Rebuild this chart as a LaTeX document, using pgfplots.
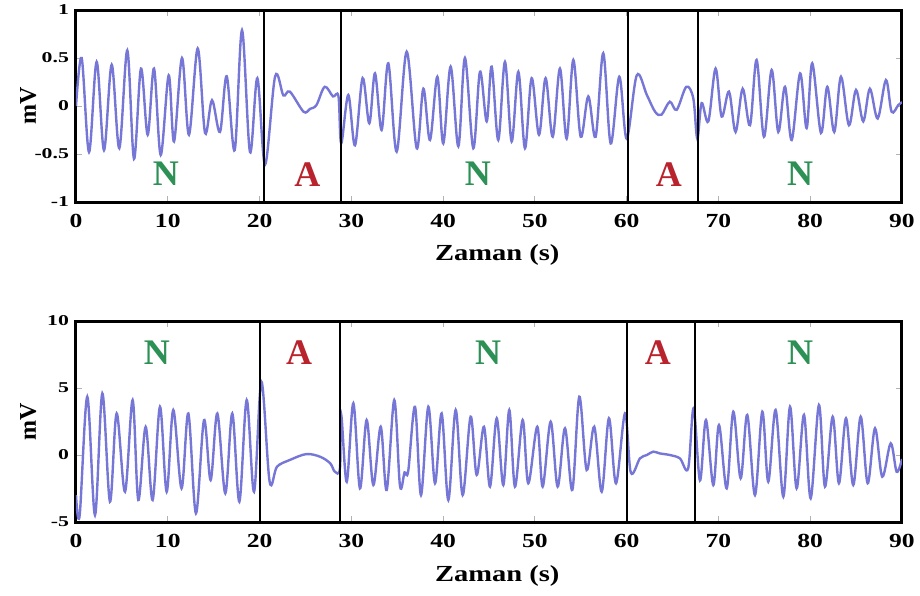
\documentclass[border=0pt]{standalone}
\usepackage{fontspec}
\setmainfont{Liberation Serif}
\newfontfamily\xtickfont[FakeStretch=1.28]{Liberation Serif}
\newfontfamily\ytickfont[FakeStretch=1.45]{Liberation Serif}
\newfontfamily\xlabfont[FakeStretch=1.24]{Liberation Serif}
\usepackage{pgfplots}
\pgfplotsset{compat=1.18}
\definecolor{sig}{RGB}{118,118,215}
\definecolor{ngreen}{RGB}{45,145,85}
\definecolor{ared}{RGB}{185,35,45}
\pgfplotsset{ecg/.style={
  scale only axis, width=413pt, xmin=0, xmax=90, xtick={0,10,...,90},
  tick align=inside, tick pos=both, major tick length=3pt,
  tick style={gray!60, line width=0.5pt},
  axis line style={line width=1.5pt},
  xticklabel style={font=\xtickfont\bfseries\fontsize{10}{11}\selectfont, anchor=center, yshift=-9.5pt},
  yticklabel style={font=\ytickfont\bfseries\fontsize{7.5}{8}\selectfont},
  /pgf/number format/assume math mode=true,
  xlabel={Zaman (s)}, ylabel={mV},
  xlabel style={font=\xlabfont\bfseries\fontsize{11.5}{13}\selectfont, at={(axis description cs:0.51,0)}, anchor=center, yshift=-26.5pt},
  ylabel style={font=\bfseries\fontsize{12}{13}\selectfont, at={(axis description cs:-0.058,0.5)}, anchor=center},
  clip=true,
}}
\newcommand{\lab}{\bfseries\fontsize{18}{20}\selectfont}
\begin{document}
\begin{tikzpicture}
\begin{axis}[ecg, name=top, height=96pt, ymin=-1, ymax=1, ytick={-1,-0.5,0,0.5,1}]
\addplot[sig, line width=1.2pt, smooth, tension=0.55] coordinates {
(0,0.0) (0.62,0.50) (1.42,-0.48) (2.25,0.46) (3.05,-0.46) (3.89,0.43) (4.72,-0.44)
(5.59,0.58) (6.32,-0.55) (7.08,0.39) (7.81,-0.30) (8.50,0.39) (9.23,-0.51) (10.1,0.32)
(10.68,-0.37) (11.55,0.50) (12.31,-0.30) (13.26,0.60) (14.06,-0.28) (14.82,0.06)
(15.69,-0.27) (16.42,0.31) (17.29,-0.46) (18.09,0.79) (18.96,-0.48) (19.76,0.29)
(20.6,-0.61) (21.7,0.31) (22.6,0.11) (23.3,0.15) (24.8,-0.06) (25.5,-0.03) (26.2,0.01)
(27.1,0.20) (28.0,0.10) (28.6,0.10) (28.9,-0.39) (29.67,0.115) (30.4,-0.41) (31.23,0.29)
(31.96,-0.18) (32.58,0.34) (33.3,-0.25) (34.03,0.445) (34.94,-0.476) (36.03,0.566)
(37.12,-0.44) (37.85,0.18) (38.57,-0.354) (39.37,0.305) (40.02,-0.39) (40.82,0.41)
(41.66,-0.42) (42.38,0.50) (43.29,-0.44) (44.02,0.357) (44.75,-0.16) (45.29,0.41)
(46.01,-0.354) (46.74,0.46) (47.47,-0.37) (48.2,0.357) (48.92,-0.44) (49.65,0.29)
(50.45,-0.30) (51.17,0.29) (51.94,-0.32) (52.73,0.39) (53.46,-0.34) (54.19,0.48)
(54.99,-0.32) (55.82,0.10) (56.62,-0.32) (57.45,0.55) (58.26,-0.39) (59.2,0.305)
(60.0,-0.34) (61.1,0.32) (62.2,0.115) (63.1,-0.06) (63.8,-0.09) (64.7,0.045)
(65.45,-0.04) (66.5,0.20) (67.26,0.08) (67.7,-0.34) (68.17,0.03) (68.9,-0.16)
(69.69,0.39) (70.35,-0.11) (71.15,0.15) (71.87,-0.27) (72.64,0.18) (73.44,-0.20)
(74.16,0.48) (74.96,-0.32) (75.8,0.375) (76.52,-0.27) (77.25,0.20) (77.98,-0.354)
(78.9,0.34) (79.61,-0.23) (80.22,0.445) (81.17,-0.28) (81.86,0.20) (82.62,-0.27)
(83.35,0.305) (84.22,-0.20) (84.99,0.167) (85.78,-0.16) (86.5,0.18) (87.35,-0.13)
(88.25,0.27) (88.87,-0.06) (89.6,0.01) (90,0.04)
};
\addplot[black, line width=1pt] coordinates {(20.5,-1) (20.5,1)};
\addplot[black, line width=1pt] coordinates {(28.9,-1) (28.9,1)};
\addplot[black, line width=1pt] coordinates {(60.1,-1) (60.1,1)};
\addplot[black, line width=1pt] coordinates {(67.8,-1) (67.8,1)};
\node[ngreen, font=\lab] at (axis cs:9.8,-0.71) {N};
\node[ared, font=\lab] at (axis cs:25.2,-0.71) {A};
\node[ngreen, font=\lab] at (axis cs:43.8,-0.71) {N};
\node[ared, font=\lab] at (axis cs:64.6,-0.71) {A};
\node[ngreen, font=\lab] at (axis cs:78.9,-0.71) {N};
\end{axis}
\begin{axis}[ecg, at={(0,-160pt)}, height=100.5pt, ymin=-5, ymax=10, ytick={-5,0,5,10}, xlabel style={yshift=-0.5pt}]
\addplot[sig, line width=1.2pt, smooth, tension=0.55] coordinates {
(0,-3.0) (0.4,-4.5) (1.23,4.35) (2.07,-4.48) (2.87,4.6) (3.7,-3.48) (4.43,3.1)
(5.34,-2.74) (6.17,4.1) (6.79,-3.36) (7.59,2.1) (8.35,-3.36) (9.15,3.6) (9.88,-2.74)
(10.6,3.36) (11.5,-2.49) (12.24,3.1) (13.07,-4.35) (13.95,2.6) (14.67,-1.87) (15.4,3.1)
(16.27,-2.86) (17.03,3.1) (17.8,-3.48) (18.6,4.1) (19.4,-2.74) (20.2,5.47) (21.1,-1.99)
(21.9,-0.87) (23.3,-0.37) (25.1,0.07) (26.6,-0.13) (27.7,-0.62) (28.2,-1.24) (28.76,-1.0)
(28.9,3.0) (29.5,-2.0) (30.22,3.86) (30.94,-2.49) (31.67,2.61) (32.4,-2.24) (33.2,2.11)
(33.85,-2.61) (34.68,4.1) (35.3,-2.3) (35.8,-1.3) (36.2,-1.2) (36.94,3.6) (37.59,-2.99)
(38.39,3.6) (39.12,-2.11) (39.84,3.11) (40.57,-3.36) (41.37,3.36) (42.13,-2.99)
(43.0,2.86) (43.66,-1.49) (44.45,2.11) (45.11,-2.36) (45.84,2.74) (46.56,-2.24)
(47.21,3.36) (47.83,-2.36) (48.67,2.61) (49.28,-2.11) (50.26,2.11) (50.85,-2.36)
(51.72,2.49) (52.48,-2.36) (53.28,1.99) (54.08,-2.61) (54.84,4.35) (55.64,-1.12)
(56.47,2.11) (57.28,-2.74) (58.07,2.74) (58.84,-2.11) (59.82,3.11) (60.45,-1.3)
(61.45,-0.25) (62.2,0.0) (62.9,0.25) (63.6,0.12) (64.7,0.0) (65.8,-0.25) (66.7,-1.0)
(67.3,3.5) (67.99,-1.9) (68.64,2.61) (69.44,-2.24) (70.06,2.24) (70.9,-2.49)
(71.62,3.23) (72.42,-1.74) (73.14,2.99) (73.98,-2.99) (74.78,3.23) (75.43,-1.99)
(76.23,3.36) (77.07,-3.11) (77.8,3.6) (78.52,-2.49) (79.32,2.99) (80.05,-3.23)
(80.95,3.73) (81.61,-2.36) (82.45,2.86) (83.13,-2.11) (83.9,2.74) (84.69,-2.24)
(85.5,2.86) (86.26,-2.11) (87.06,1.99) (87.85,-1.62) (88.77,0.87) (89.42,-1.25) (90,-0.3)
};
\addplot[black, line width=1pt] coordinates {(20.0,-5) (20.0,10)};
\addplot[black, line width=1pt] coordinates {(28.8,-5) (28.8,10)};
\addplot[black, line width=1pt] coordinates {(60.0,-5) (60.0,10)};
\addplot[black, line width=1pt] coordinates {(67.5,-5) (67.5,10)};
\node[ngreen, font=\lab] at (axis cs:8.8,7.65) {N};
\node[ared, font=\lab] at (axis cs:24.3,7.65) {A};
\node[ngreen, font=\lab] at (axis cs:44.9,7.65) {N};
\node[ared, font=\lab] at (axis cs:63.4,7.65) {A};
\node[ngreen, font=\lab] at (axis cs:78.9,7.65) {N};
\end{axis}
\pgfresetboundingbox
\path[use as bounding box] (-38pt,-196.5pt) rectangle (422pt,101pt);
\end{tikzpicture}
\end{document}
